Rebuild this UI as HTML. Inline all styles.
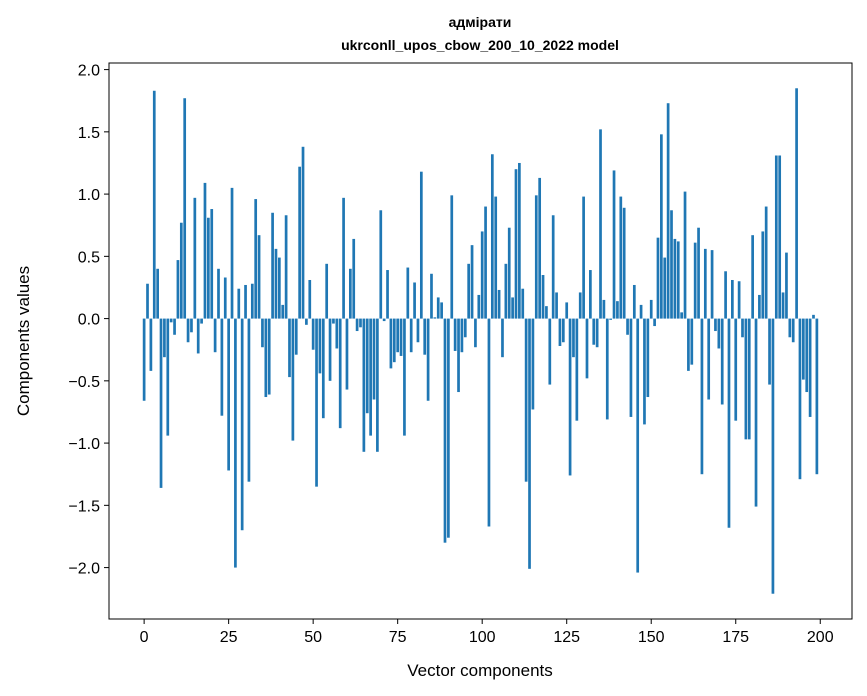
<!DOCTYPE html>
<html><head><meta charset="utf-8"><style>
body{margin:0;background:#fff;}
svg{display:block;font-family:"Liberation Sans","DejaVu Sans",sans-serif;}
</style></head><body>
<svg id="chart" width="867" height="696">
<text x="480" y="27" text-anchor="middle" font-size="14" font-weight="bold">адмірати</text>
<text x="480" y="50" text-anchor="middle" font-size="14" font-weight="bold">ukrconll_upos_cbow_200_10_2022 model</text>
<g id="bars"></g>
<rect x="109" y="63" width="743" height="556" fill="none" stroke="#000" stroke-width="1"/>
<g id="xticks"></g>
<g id="yticks"></g>
<text x="480" y="676" text-anchor="middle" font-size="17">Vector components</text>
<text transform="translate(29,341) rotate(-90)" text-anchor="middle" font-size="17">Components values</text>
</svg>
<script>
const values = [-0.66,0.28,-0.42,1.83,0.40,-1.36,-0.31,-0.94,-0.03,-0.13,
0.47,0.77,1.77,-0.19,-0.11,0.97,-0.28,-0.04,1.09,0.81,
0.88,-0.27,0.40,-0.78,0.33,-1.22,1.05,-2.00,0.24,-1.70,
0.27,-1.31,0.28,0.96,0.67,-0.23,-0.63,-0.61,0.85,0.56,
0.49,0.11,0.83,-0.47,-0.98,-0.29,1.22,1.38,-0.05,0.31,
-0.25,-1.35,-0.44,-0.80,0.44,-0.50,-0.04,-0.24,-0.88,0.97,
-0.57,0.40,0.64,-0.10,-0.07,-1.07,-0.76,-0.94,-0.65,-1.07,
0.87,-0.02,0.39,-0.40,-0.35,-0.27,-0.30,-0.94,0.41,-0.27,
0.29,-0.19,1.18,-0.29,-0.66,0.36,0.01,0.17,0.13,-1.80,
-1.76,0.99,-0.26,-0.59,-0.27,-0.15,0.44,0.59,-0.23,0.19,
0.70,0.90,-1.67,1.32,0.98,0.23,-0.31,0.44,0.73,0.17,
1.20,1.25,0.24,-1.31,-2.01,-0.73,0.99,1.13,0.35,0.10,
-0.53,0.83,0.21,-0.22,-0.19,0.13,-1.26,-0.31,-0.82,0.21,
0.98,-0.48,0.39,-0.21,-0.23,1.52,0.15,-0.81,-0.01,1.19,
0.14,0.98,0.89,-0.13,-0.79,0.27,-2.04,0.11,-0.85,-0.63,
0.15,-0.06,0.65,1.48,0.49,1.73,0.87,0.64,0.62,0.05,
1.02,-0.42,-0.37,0.61,0.73,-1.25,0.56,-0.65,0.55,-0.10,
-0.24,-0.69,0.38,-1.68,0.31,-0.82,0.30,-0.15,-0.97,-0.97,
0.67,-1.51,0.19,0.70,0.90,-0.53,-2.21,1.31,1.31,0.21,
0.53,-0.15,-0.19,1.85,-1.29,-0.49,-0.59,-0.79,0.03,-1.25];
const xTickValues = [0,25,50,75,100,125,150,175,200];
const yTickValues = [-2.0,-1.5,-1.0,-0.5,0.0,0.5,1.0,1.5,2.0];
const yTickLabels = ["−2.0","−1.5","−1.0","−0.5","0.0","0.5","1.0","1.5","2.0"];

const NS="http://www.w3.org/2000/svg";
const L=109,R=852,T=63,B=619;
const n=values.length;
const xmin=-0.4-0.05*(n-0.2), xmax=(n-1)+0.4+0.05*(n-0.2);
const vmin=Math.min(0,...values), vmax=Math.max(0,...values);
const ymin=vmin-0.05*(vmax-vmin), ymax=vmax+0.05*(vmax-vmin);
function xs(v){return L+(v-xmin)/(xmax-xmin)*(R-L);}
function ys(v){return B-(v-ymin)/(ymax-ymin)*(B-T);}
const gb=document.getElementById('bars');
values.forEach((v,i)=>{
  const r=document.createElementNS(NS,'rect');
  const x0=xs(i-0.4),x1=xs(i+0.4);
  r.setAttribute('x',x0);r.setAttribute('width',x1-x0);
  r.setAttribute('y',Math.min(ys(v),ys(0)));
  r.setAttribute('height',Math.abs(ys(v)-ys(0)));
  r.setAttribute('fill','#1f77b4');
  
  
  gb.appendChild(r);
});
const gx=document.getElementById('xticks');
xTickValues.forEach(t=>{
  const x=xs(t);
  const l=document.createElementNS(NS,'line');
  l.setAttribute('x1',x);l.setAttribute('x2',x);l.setAttribute('y1',B);l.setAttribute('y2',B+5);
  l.setAttribute('stroke','#000');
  
  
  gx.appendChild(l);
  const tx=document.createElementNS(NS,'text');
  tx.setAttribute('x',x);tx.setAttribute('y',B+23);tx.setAttribute('text-anchor','middle');tx.setAttribute('font-size','16');
  tx.textContent=t;
  
  
  gx.appendChild(tx);
});
const gy=document.getElementById('yticks');
yTickValues.forEach((t,i)=>{
  const y=ys(t);
  const l=document.createElementNS(NS,'line');
  l.setAttribute('x1',L-5);l.setAttribute('x2',L);l.setAttribute('y1',y);l.setAttribute('y2',y);
  l.setAttribute('stroke','#000');
  
  
  gy.appendChild(l);
  const tx=document.createElementNS(NS,'text');
  tx.setAttribute('x',L-9);tx.setAttribute('y',y+6);tx.setAttribute('text-anchor','end');tx.setAttribute('font-size','16');
  tx.textContent=yTickLabels[i];
  
  
  gy.appendChild(tx);
});
</script>
</body></html>
